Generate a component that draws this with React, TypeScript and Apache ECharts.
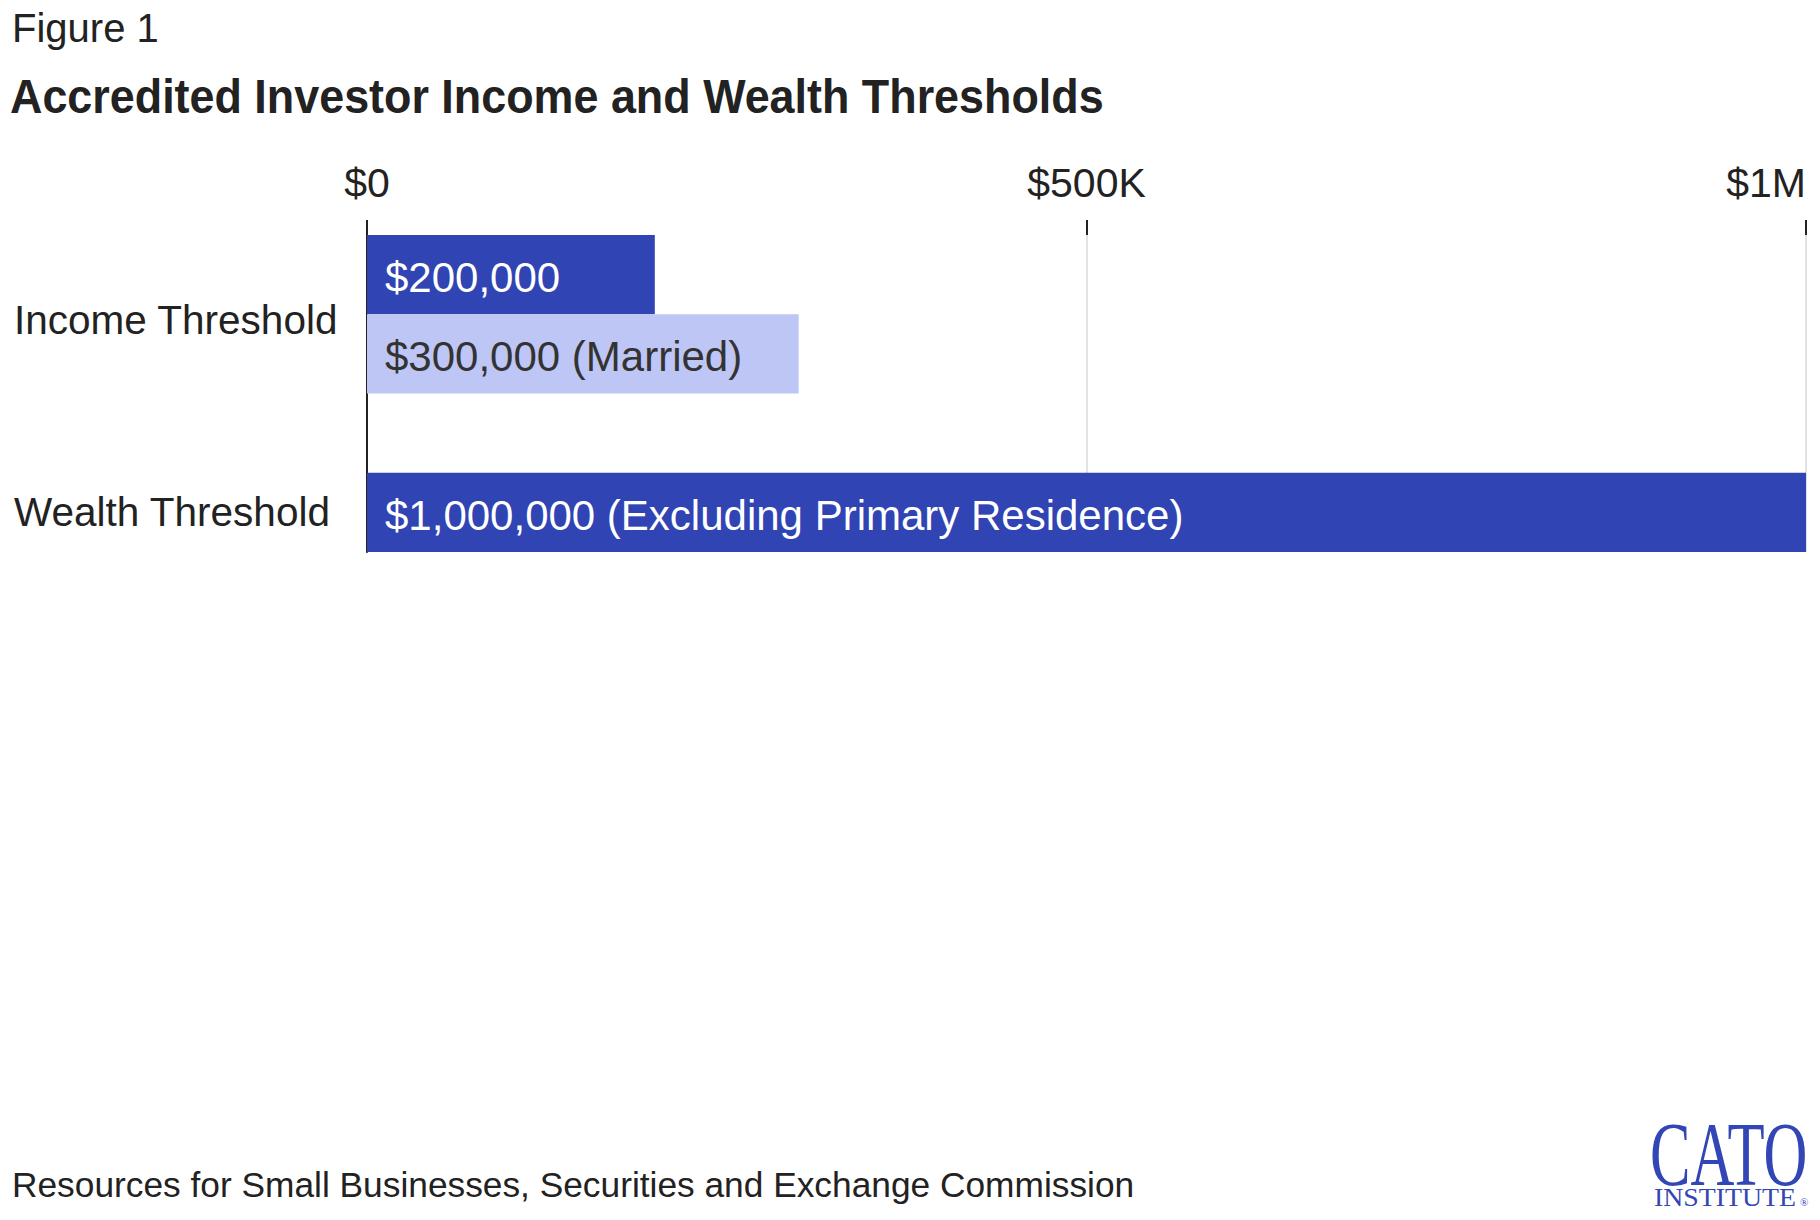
import React, { useEffect, useRef } from "react";
import * as echarts from "echarts";

// ---- data ----
const categories: string[] = ["Income Threshold", "Wealth Threshold"];
const barNames: string[] = ["Income (individual)", "Income (married)", "Wealth"];
const barValues: number[] = [200000, 300000, 1000000];
const barLabels: string[] = ["$200,000", "$300,000 (Married)", "$1,000,000 (Excluding Primary Residence)"];
const barCategory: number[] = [0, 0, 1];
const barShade: string[] = ["dark", "light", "dark"];
const xTickValues: number[] = [0, 500000, 1000000];
const xTickLabels: string[] = ["$0", "$500K", "$1M"];

const DARK = "#3044b3";
const LIGHT = "#bec6f5";
const INK = "#222222";
const FONT = "'Liberation Sans', Arial, sans-serif";

export default function App() {
  const ref = useRef<HTMLDivElement>(null);
  useEffect(() => {
    document.body.style.margin = "0";
    if (!ref.current) return;
    const chart = echarts.init(ref.current, undefined, { renderer: "svg" });

    // rows: bars grouped by category, with an empty spacer row between categories
    const rowKeys: string[] = [];
    const rowData: any[] = [];
    categories.forEach((_, ci) => {
      if (ci > 0) {
        rowKeys.push("spacer" + ci);
        rowData.push(null);
      }
      barValues.forEach((v, bi) => {
        if (barCategory[bi] !== ci) return;
        rowKeys.push("bar" + bi);
        const dark = barShade[bi] === "dark";
        rowData.push({
          value: v,
          name: barNames[bi],
          itemStyle: { color: dark ? DARK : LIGHT },
          label: {
            show: true,
            formatter: barLabels[bi],
            color: dark ? "#ffffff" : "#333333",
          },
        });
      });
    });
    const firstRowOfCat: Record<string, number> = {};
    rowKeys.forEach((k) => {
      if (k.startsWith("bar")) {
        const bi = Number(k.slice(3));
        const ci = barCategory[bi];
        if (firstRowOfCat[ci] === undefined) firstRowOfCat[ci] = bi;
      }
    });
    const catBarCount = categories.map((_, ci) => barCategory.filter((c) => c === ci).length);

    chart.setOption({
      animation: false,
      backgroundColor: "#ffffff",
      grid: { left: 367, right: 14, top: 235, bottom: 668, containLabel: false },
      xAxis: {
        type: "value",
        position: "top",
        min: 0,
        max: 1000000,
        interval: 500000,
        axisLine: { show: false },
        axisTick: { show: true, length: 15, lineStyle: { color: INK, width: 2 } },
        splitLine: { show: true, lineStyle: { color: "#e2e2e2", width: 2 } },
        axisLabel: {
          margin: 32,
          fontFamily: FONT,
          fontSize: 41,
          color: INK,
          showMaxLabel: true,
          alignMaxLabel: "right",
          formatter: (v: number) => {
            const i = xTickValues.indexOf(v);
            return i >= 0 ? xTickLabels[i] : "";
          },
        },
      },
      yAxis: {
        type: "category",
        inverse: true,
        data: rowKeys,
        axisLine: { show: true, lineStyle: { color: INK, width: 2 } },
        axisTick: { show: false },
        splitLine: { show: false },
        axisLabel: {
          margin: 353,
          align: "left",
          fontFamily: FONT,
          fontSize: 40.5,
          lineHeight: 90,
          color: INK,
          interval: 0,
          formatter: (k: string) => {
            if (!k.startsWith("bar")) return "";
            const bi = Number(k.slice(3));
            const ci = barCategory[bi];
            if (firstRowOfCat[ci] !== bi) return "";
            return catBarCount[ci] > 1 ? "\n" + categories[ci] : categories[ci];
          },
        },
      },
      series: [
        {
          type: "bar",
          data: rowData,
          barWidth: "100%",
          barCategoryGap: 0,
          label: {
            show: true,
            position: "insideLeft",
            distance: 18,
            offset: [0, 3],
            fontFamily: FONT,
            fontSize: 42,
          },
        },
      ],
      graphic: [
        {
          type: "text",
          x: 12,
          y: 28,
          style: { text: "Figure 1", font: `40px ${FONT}`, fill: INK, verticalAlign: "middle" },
        },
        {
          type: "text",
          x: 10,
          y: 96,
          scaleX: 0.916,
          style: {
            text: "Accredited Investor Income and Wealth Thresholds",
            font: `bold 49px ${FONT}`,
            fill: INK,
            verticalAlign: "middle",
          },
        },
        {
          type: "text",
          x: 12,
          y: 1184,
          style: {
            text: "Resources for Small Businesses, Securities and Exchange Commission",
            font: `35.3px ${FONT}`,
            fill: INK,
            verticalAlign: "middle",
          },
        },
        {
          type: "text",
          x: 1650,
          y: 1154,
          scaleX: 0.66,
          style: {
            text: "CATO",
            font: `92px 'Liberation Serif', 'Times New Roman', serif`,
            fill: "#3346b5",
            verticalAlign: "middle",
          },
        },
        {
          type: "text",
          x: 1654,
          y: 1197,
          scaleX: 1.07,
          style: {
            text: "INSTITUTE",
            font: `26px 'Liberation Serif', 'Times New Roman', serif`,
            fill: "#3346b5",
            verticalAlign: "middle",
          },
        },
        {
          type: "text",
          x: 1800,
          y: 1202,
          style: {
            text: "®",
            font: `11px 'Liberation Serif', serif`,
            fill: "#3346b5",
            verticalAlign: "middle",
          },
        },
      ],
    });
    return () => chart.dispose();
  }, []);
  return <div ref={ref} style={{ width: 1820, height: 1220 }} />;
}
